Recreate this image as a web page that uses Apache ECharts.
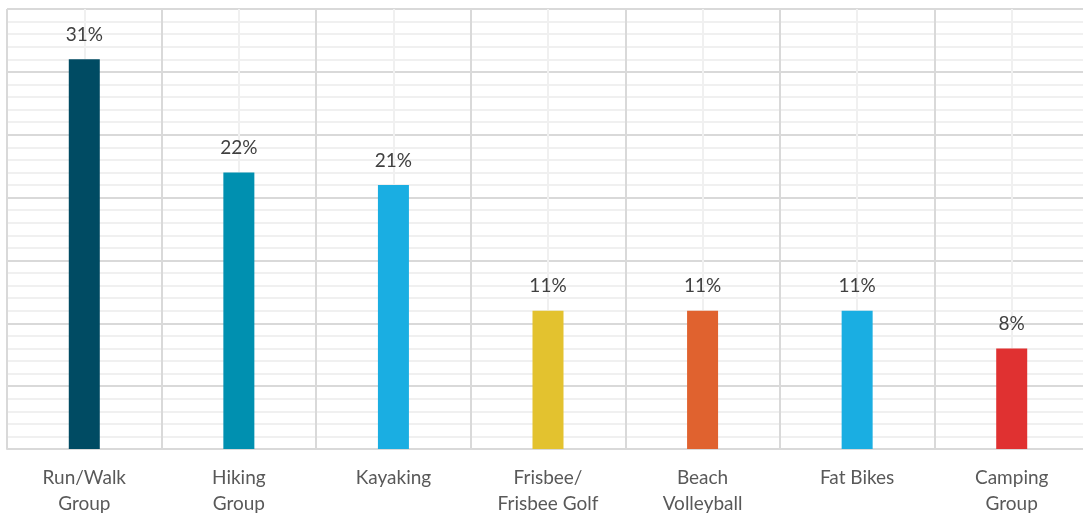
<!DOCTYPE html>
<html>
<head>
<meta charset="utf-8">
<script src="https://cdn.jsdelivr.net/npm/echarts@6/dist/echarts.min.js"></script>
<style>
  html, body { margin: 0; padding: 0; background: #ffffff; overflow: hidden; }
  /* the plot runs slightly past the right edge of the window */
  #chart { width: 1090px; height: 517px; }
</style>
</head>
<body>
<div id="chart"></div>
<script>
// Activity categories and their share of responses (%)
const categories = ['Run/Walk\nGroup', 'Hiking\nGroup', 'Kayaking', 'Frisbee/\nFrisbee Golf', 'Beach\nVolleyball', 'Fat Bikes', 'Camping\nGroup'];
const shares = [31, 22, 21, 11, 11, 11, 8];
const barColors = ['#004b63', '#0090b0', '#1aaee2', '#e3c22f', '#e0622f', '#1aaee2', '#e03131'];

const chart = echarts.init(document.getElementById('chart'));
const font = 'Lato, "Open Sans", sans-serif';

chart.setOption({
  animation: false,
  grid: { left: 7, top: 9, right: 1, height: 441, containLabel: false },
  xAxis: [
    {
      type: 'category',
      data: categories,
      axisLine: { show: true, lineStyle: { color: '#d9d9d9', width: 2 } },
      axisTick: { show: false },
      splitLine: { show: false },
      axisLabel: { color: '#595959', fontSize: 19, lineHeight: 26, margin: 16, fontFamily: font, interval: 0 }
    },
    {
      // half-category grid: boundaries darker, centres lighter
      type: 'value',
      min: 0,
      max: 14,
      interval: 1,
      position: 'bottom',
      axisLine: { show: false },
      axisTick: { show: false },
      axisLabel: { show: false },
      splitLine: { show: true, lineStyle: { color: ['#d9d9d9', '#f0f0f0'], width: 2 } }
    }
  ],
  yAxis: {
    type: 'value',
    min: 0,
    max: 35,
    interval: 5,
    axisLine: { show: false },
    axisTick: { show: false },
    axisLabel: { show: false },
    splitLine: { show: true, lineStyle: { color: '#d9d9d9', width: 2 } },
    minorTick: { show: false, splitNumber: 5 },
    minorSplitLine: { show: true, lineStyle: { color: '#f0f0f0', width: 2 } }
  },
  series: [{
    type: 'bar',
    xAxisIndex: 0,
    data: shares.map((v, i) => ({ value: v, itemStyle: { color: barColors[i] } })),
    barWidth: 31,
    z: 5,
    label: {
      show: true,
      position: 'top',
      distance: 15,
      formatter: '{c}%',
      color: '#404040',
      fontSize: 19,
      fontFamily: font
    }
  }]
});
</script>
</body>
</html>
